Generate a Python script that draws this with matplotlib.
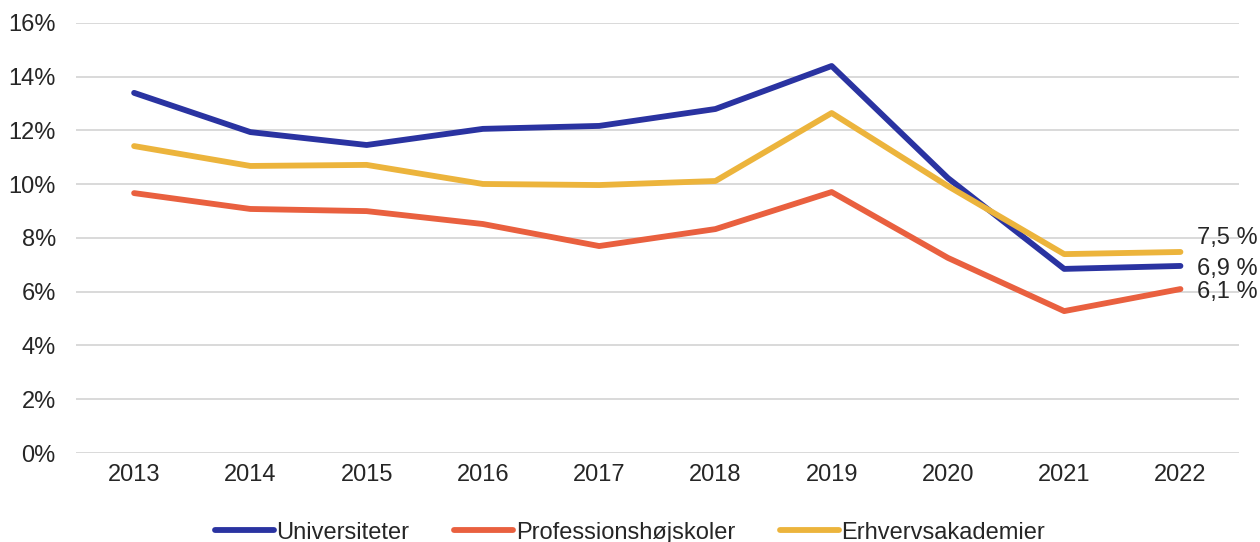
import matplotlib.pyplot as plt
from matplotlib.ticker import FuncFormatter

plt.rcParams['font.family'] = ['Liberation Sans', 'DejaVu Sans']

years = ['2013', '2014', '2015', '2016', '2017', '2018', '2019', '2020', '2021', '2022']
universiteter = [13.40, 11.94, 11.46, 12.06, 12.17, 12.80, 14.40, 10.23, 6.85, 6.96]
professionshojskoler = [9.67, 9.08, 9.00, 8.52, 7.70, 8.33, 9.71, 7.26, 5.28, 6.10]
erhvervsakademier = [11.42, 10.68, 10.72, 10.01, 9.97, 10.12, 12.65, 9.93, 7.40, 7.48]
end_labels = ['6,9 %', '6,1 %', '7,5 %']

series = [
    ('Universiteter', universiteter, '#2a33a1'),
    ('Professionshøjskoler', professionshojskoler, '#e9603f'),
    ('Erhvervsakademier', erhvervsakademier, '#ecb43c'),
]

fig = plt.figure(figsize=(12.6, 5.42), dpi=100)
ax = fig.add_axes([0.0603, 0.1642, 0.9227, 0.7934])

x = list(range(len(years)))
for name, vals, col in series:
    ax.plot(x, vals, color=col, lw=4.2, label=name, solid_capstyle='round')

# end labels (shifted so they don't overlap)
label_y = [6.85, 6.0, 8.0]
for (name, vals, col), txt, ly in zip(series, end_labels, label_y):
    ax.text(x[-1] + 0.14, ly, txt, fontsize=17, color='#262626', va='center', ha='left')

ax.set_xlim(-0.5, len(years) - 0.5)
ax.set_ylim(0, 16)
ax.set_yticks(range(0, 17, 2))
ax.yaxis.set_major_formatter(FuncFormatter(lambda v, p: f'{int(v)}%'))
ax.set_xticks(x)
ax.set_xticklabels(years)
ax.grid(axis='y', color='#d9d9d9', lw=1.4)
ax.set_axisbelow(True)
for s in ax.spines.values():
    s.set_visible(False)
ax.tick_params(length=0, labelsize=17, labelcolor='#262626')
ax.tick_params(axis='y', pad=14.5)
ax.tick_params(axis='x', pad=8)

leg = fig.legend(loc='lower center', bbox_to_anchor=(0.5, -0.042), ncol=3, frameon=False,
                 fontsize=17, handlelength=2.5, columnspacing=1.9, handletextpad=0.1)
for t in leg.get_texts():
    t.set_color('#262626')

fig.savefig('out.png', dpi=100)
